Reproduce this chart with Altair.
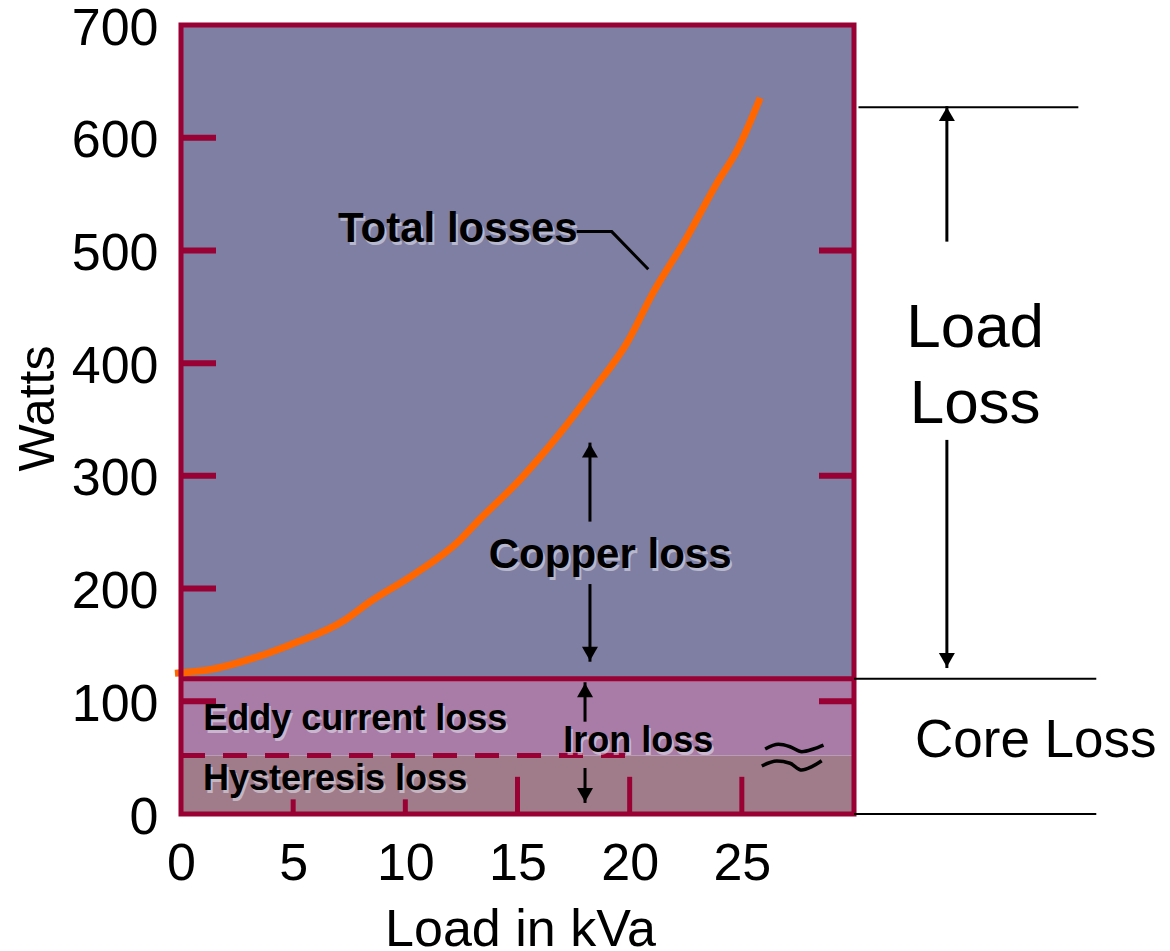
import altair as alt
import pandas as pd

FONT = "Liberation Sans"
BORDER = "#990033"

# ---------------- data ----------------
# total losses curve (load in kVA, watts)
load_kva = [-0.27, 1.43, 3.43, 4.85, 7.31, 8.43, 10.34, 12.44, 13.2, 15.1,
            16.9, 18.37, 19.88, 21.04, 22.56, 23.9, 24.8, 25.82]
total_watts = [124.8, 128.7, 139.6, 150, 172.1, 188.4, 212, 243.1, 259.1, 296.4,
               338, 376.2, 418, 462.3, 512, 560, 589.2, 635.3]

x_min, x_max = 0, 30
y_min, y_max = 0, 700

# shaded bands: hysteresis, eddy current, copper/total region
band_low = [0, 52, 120]
band_high = [52, 120, 700]
band_colors = ["#a07c8a", "#a87ca6", "#7f7fa3"]

core_loss_top = 120
hysteresis_top = 52
dash_end_kva = 19.8

y_tick_labels = [0, 100, 200, 300, 400, 500, 600, 700]
x_tick_labels = [0, 5, 10, 15, 20, 25]

# inner tick marks
left_tick_values = [100, 200, 300, 400, 500, 600]
left_tick_end = 1.56
right_tick_values = [100, 300, 500]
right_tick_start = 28.44
bottom_tick_values = [5, 10, 15, 20, 25]
bottom_tick_heights = [13, 13, 33, 33, 33]

# bracket lines on the right
bracket_y = [627, 120, 0]
bracket_x0 = [30.2, 30, 30]
bracket_x1 = [40, 40.8, 40.8]

# arrows (x, tail y, tip y, direction)
arrow_x = [34.14, 34.14, 18.23, 18.23, 18.01, 18.01]
arrow_tail = [507.8, 331.9, 259.4, 204, 81.9, 40.8]
arrow_tip = [628, 129.5, 329.5, 135.1, 116.9, 9.8]
arrow_dir = ["up", "down", "up", "down", "up", "down"]

# leader line from "Total losses" to the curve
leader_x = [17.64, 19.2, 20.83]
leader_y = [516.7, 516.7, 483.3]

# "break" wavy marks
wave1_x = [26.04, 26.63, 27.15, 27.67, 28.19, 28.64]
wave1_y = [57.7, 61.8, 59.7, 55.3, 57.7, 61.2]
wave2_x = [25.89, 26.56, 27.15, 27.67, 28.12, 28.56]
wave2_y = [42.6, 47.0, 45.0, 39.0, 42.0, 47.3]

# labels inside the plot (bold, left aligned)
bold_labels = ["Total losses", "Eddy current loss", "Hysteresis loss", "Iron loss"]
bold_x = [7.0, 0.99, 0.98, 17.04]
bold_y = [507.8, 74.5, 21.3, 55.3]
bold_size = [42, 36, 36, 36]

copper_label = ["Copper loss"]
copper_x = [19.13]
copper_y = [218.3]

load_loss_lines = ["Load", "Loss"]
load_loss_x = [35.4, 35.4]
load_loss_y = [414.4, 347]

core_label = ["Core Loss"]
core_x = [32.72]
core_y = [50.8]

# ---------------- chart ----------------
xs = alt.Scale(domain=[x_min, x_max], nice=False, zero=False)
ys = alt.Scale(domain=[y_min, y_max], nice=False, zero=False)

x_axis = alt.Axis(values=x_tick_labels, title="Load in kVa", grid=False, ticks=False,
                  tickSize=0, domain=False, labelFontSize=52, labelFont=FONT,
                  labelColor="black", labelPadding=24, labelFlush=False,
                  titleFontSize=52, titleFont=FONT, titleFontWeight="normal",
                  titleColor="black", titleX=339, titleY=131,
                  titleBaseline="alphabetic", titleAlign="center")
y_axis = alt.Axis(values=y_tick_labels, title="Watts", grid=False, ticks=False,
                  tickSize=0, domain=False, labelFontSize=52, labelFont=FONT,
                  labelColor="black", labelPadding=23, labelOffset=3,
                  titleFontSize=50, titleFont=FONT, titleFontWeight="normal",
                  titleColor="black", titleX=-143, titleY=383, titleAngle=270,
                  titleBaseline="middle", titleAlign="center")


def X(field):
    return alt.X(field, scale=xs, axis=x_axis)


def Y(field):
    return alt.Y(field, scale=ys, axis=y_axis)


bands_df = pd.DataFrame({"x0": [x_min] * 3, "x1": [x_max] * 3,
                         "lo": band_low, "hi": band_high, "color": band_colors})
bands = alt.Chart(bands_df).mark_rect().encode(
    x=X("x0:Q"), x2="x1:Q", y=Y("lo:Q"), y2="hi:Q",
    color=alt.Color("color:N", scale=None))


def hrule(df, **style):
    return alt.Chart(df).mark_rule(**style).encode(x=X("x0:Q"), x2="x1:Q", y=Y("y:Q"))


def vrule(df, **style):
    return alt.Chart(df).mark_rule(**style).encode(x=X("x:Q"), y=Y("y0:Q"), y2="y1:Q")


dash = hrule(pd.DataFrame({"x0": [x_min], "x1": [dash_end_kva], "y": [hysteresis_top]}),
             color=BORDER, strokeWidth=5, strokeDash=[24, 18])
core_line = hrule(pd.DataFrame({"x0": [x_min], "x1": [x_max], "y": [core_loss_top]}),
                  color=BORDER, strokeWidth=5)
left_ticks = hrule(pd.DataFrame({"x0": [x_min] * len(left_tick_values),
                                 "x1": [left_tick_end] * len(left_tick_values),
                                 "y": left_tick_values}), color=BORDER, strokeWidth=6)
right_ticks = hrule(pd.DataFrame({"x0": [right_tick_start] * len(right_tick_values),
                                  "x1": [x_max] * len(right_tick_values),
                                  "y": right_tick_values}), color=BORDER, strokeWidth=6)
bottom_ticks = vrule(pd.DataFrame({"x": bottom_tick_values,
                                   "y0": [y_min] * len(bottom_tick_values),
                                   "y1": bottom_tick_heights}), color=BORDER, strokeWidth=5)

curve = alt.Chart(pd.DataFrame({"kva": load_kva, "w": total_watts})).mark_line(
    color="#ff6600", strokeWidth=7, interpolate="monotone").encode(x=X("kva:Q"), y=Y("w:Q"))

brackets = hrule(pd.DataFrame({"x0": bracket_x0, "x1": bracket_x1, "y": bracket_y}),
                 color="black", strokeWidth=2)

arrows_df = pd.DataFrame({"x": arrow_x, "y0": arrow_tail, "y1": arrow_tip, "dir": arrow_dir})
shafts = vrule(arrows_df, color="black", strokeWidth=3)
heads_up = alt.Chart(arrows_df[arrows_df["dir"] == "up"]).mark_point(
    shape="triangle-up", filled=True, color="black", size=256, opacity=1, yOffset=8).encode(
    x=X("x:Q"), y=Y("y1:Q"))
heads_down = alt.Chart(arrows_df[arrows_df["dir"] == "down"]).mark_point(
    shape="triangle-down", filled=True, color="black", size=256, opacity=1, yOffset=-8).encode(
    x=X("x:Q"), y=Y("y1:Q"))

leader = alt.Chart(pd.DataFrame({"x": leader_x, "y": leader_y, "o": [0, 1, 2]})).mark_line(
    color="black", strokeWidth=3).encode(x=X("x:Q"), y=Y("y:Q"), order="o:Q")

waves_df = pd.DataFrame({"x": wave1_x + wave2_x, "y": wave1_y + wave2_y,
                         "g": ["a"] * len(wave1_x) + ["b"] * len(wave2_x)})
waves = alt.Chart(waves_df).mark_line(color="black", strokeWidth=3.5, interpolate="monotone").encode(
    x=X("x:Q"), y=Y("y:Q"), detail="g:N")


def text_layer(labels, xv, yv, sizes, align, weight, shadow=False):
    df = pd.DataFrame({"t": labels, "x": xv, "y": yv, "s": sizes})
    enc = dict(x=X("x:Q"), y=Y("y:Q"), text="t:N",
               size=alt.Size("s:Q", scale=None, legend=None))
    main = alt.Chart(df).mark_text(align=align, baseline="alphabetic", font=FONT,
                                   fontWeight=weight, color="black").encode(**enc)
    if not shadow:
        return [main]
    sh = alt.Chart(df).mark_text(align=align, baseline="alphabetic", font=FONT,
                                 fontWeight=weight, color="#e6e6f0", opacity=0.55,
                                 dx=2, dy=3).encode(**enc)
    return [sh, main]


texts = []
texts += text_layer(bold_labels, bold_x, bold_y, bold_size, "left", "bold", True)
texts += text_layer(copper_label, copper_x, copper_y, [42], "center", "bold", True)
texts += text_layer(load_loss_lines, load_loss_x, load_loss_y, [62, 62], "center", "normal")
texts += text_layer(core_label, core_x, core_y, [53], "left", "normal")

frame = alt.Chart(pd.DataFrame({"x0": [x_min], "x1": [x_max], "y0": [y_min], "y1": [y_max]})).mark_rect(
    filled=False, stroke=BORDER, strokeWidth=5).encode(
    x=X("x0:Q"), x2="x1:Q", y=Y("y0:Q"), y2="y1:Q")

chart = alt.layer(
    bands, dash, core_line, left_ticks, right_ticks, bottom_ticks, curve,
    shafts, heads_up, heads_down, leader, waves, *texts, frame, brackets
).properties(
    width=673, height=789,
    autosize=alt.AutoSizeParams(type="none"),
    padding={"left": 173, "top": 17, "right": 308, "bottom": 134},
).configure_view(stroke=None).configure(background="white")

chart.save("out.html", embed_options={"renderer": "svg", "actions": False})
